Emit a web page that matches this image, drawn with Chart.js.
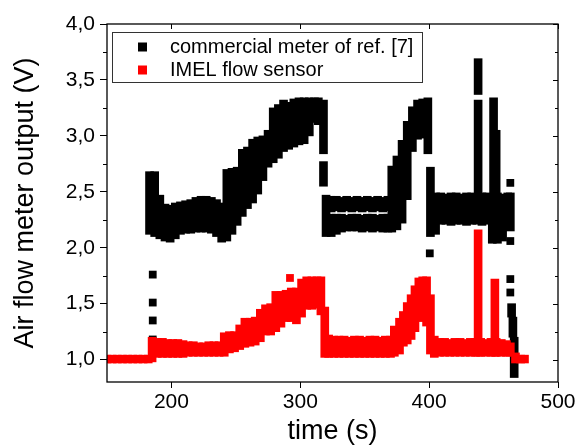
<!DOCTYPE html>
<html><head><meta charset="utf-8">
<script src="https://cdn.jsdelivr.net/npm/chart.js@4"></script>
<style>html,body{margin:0;padding:0;background:#fff}</style>
</head><body>
<canvas id="c" width="579" height="446"></canvas>
<script>
// ---- data ----
const seriesNames = ['commercial meter of ref. [7]', 'IMEL flow sensor'];
const xTitle = 'time (s)';
const yTitle = 'Air flow meter output (V)';
const xTickValues = [200, 300, 400, 500];
const yTickValues = [1.0, 1.5, 2.0, 2.5, 3.0, 3.5, 4.0];
const yTickLabels = ['1,0', '1,5', '2,0', '2,5', '3,0', '3,5', '4,0'];
const yMinorTicks = [1.25, 1.75, 2.25, 2.75, 3.25, 3.75];

// commercial meter: band of readings (time, lowest, highest)
const meterTime = [183,187,191,195,199,203,207,211,215,219,223,227,231,235,239,243,247,251,255,259,263,267,271,275,279,283,287,291,295,299,303,307,311,314,318,318,320,
  324,324,328,328,332,332,336,336,340,340,344,344,348,348,352,352,356,356,360,360,364,364,368,368,
  371,375,379,383,387,391,395,399,401,
  405,409,413,417,421,425,429,433,437,441,445,449,453,457,461,438,438,450,452,463,464,465,466];
const meterLow = [2.12,2.10,2.08,2.06,2.05,2.08,2.12,2.13,2.13,2.14,2.14,2.14,2.13,2.10,2.05,2.06,2.12,2.20,2.28,2.35,2.40,2.48,2.60,2.72,2.76,2.80,2.86,2.88,2.90,2.92,2.93,3.00,3.12,3.10,2.84,2.55,2.10,
  2.32,2.10,2.33,2.12,2.32,2.14,2.33,2.15,2.32,2.15,2.33,2.15,2.32,2.14,2.33,2.15,2.32,2.14,2.33,2.15,2.32,2.14,2.33,2.14,
  2.14,2.16,2.22,2.43,2.86,2.97,2.98,2.84,2.10,
  2.12,2.21,2.21,2.20,2.21,2.21,2.20,2.21,2.21,2.20,2.21,2.04,2.04,2.06,2.18,2.40,3.37,2.45,2.45,2.15,1.38,1.20,0.84];
const meterHigh = [2.68,2.68,2.47,2.39,2.38,2.40,2.41,2.42,2.43,2.45,2.46,2.46,2.45,2.43,2.40,2.70,2.71,2.72,2.88,2.90,2.97,2.99,3.00,3.05,3.25,3.28,3.32,3.30,3.33,3.34,3.34,3.34,3.34,3.34,3.32,2.77,2.47,
  2.46,2.30,2.46,2.30,2.45,2.30,2.46,2.29,2.45,2.30,2.46,2.30,2.45,2.29,2.46,2.30,2.45,2.30,2.46,2.29,2.45,2.30,2.46,2.30,
  2.73,2.82,2.96,3.13,3.26,3.32,3.33,3.34,2.72,
  2.49,2.49,2.48,2.49,2.49,2.48,2.49,2.49,2.48,2.49,2.49,2.48,2.49,2.48,2.49,3.32,3.69,3.34,3.05,2.49,1.50,1.38,1.20];
// commercial meter: isolated readings
const meterPointTime = [185.5,185.5,185.5,185.5,400.5,463,463,463,463];
const meterPointValue = [1.76,1.51,1.35,1.18,1.95,2.58,2.06,1.72,1.60];

// IMEL flow sensor: band of readings (time, lowest, highest)
const sensorTime = [150,154,158,162,166,170,174,178,182,185,189,193,197,201,205,209,213,217,221,225,229,233,237,241,245,249,253,257,261,265,269,273,277,281,285,289,293,297,301,305,309,313,316,319,322,
  326,330,334,338,342,346,350,354,358,362,366,370,373,377,380,383,386,389,392,395,398,401,404,
  408,412,416,420,424,428,432,436,440,444,448,452,456,460,438,451,463,467,471,474];
const sensorLow = [0.97,0.97,0.97,0.97,0.97,0.97,0.97,0.97,0.97,0.98,1.02,1.02,1.02,1.02,1.02,1.02,1.03,1.03,1.03,1.03,1.03,1.03,1.03,1.03,1.06,1.07,1.09,1.11,1.12,1.13,1.16,1.22,1.22,1.25,1.29,1.34,1.34,1.32,1.38,1.45,1.45,1.46,1.40,1.02,1.02,
  1.02,1.02,1.02,1.02,1.02,1.02,1.02,1.02,1.02,1.02,1.02,1.02,1.03,1.05,1.12,1.14,1.18,1.25,1.34,1.36,1.30,1.05,1.02,
  1.03,1.03,1.03,1.03,1.03,1.03,1.03,1.03,1.03,1.03,1.03,1.03,1.03,1.03,1.03,1.03,1.03,0.97,0.97,0.97];
const sensorHigh = [1.04,1.04,1.04,1.04,1.04,1.04,1.04,1.04,1.04,1.20,1.19,1.19,1.18,1.18,1.18,1.17,1.16,1.16,1.15,1.15,1.16,1.16,1.16,1.24,1.25,1.25,1.31,1.37,1.37,1.38,1.45,1.49,1.50,1.61,1.61,1.62,1.64,1.64,1.72,1.74,1.74,1.74,1.74,1.47,1.22,
  1.21,1.21,1.21,1.20,1.21,1.21,1.20,1.21,1.21,1.20,1.21,1.21,1.30,1.37,1.43,1.51,1.58,1.66,1.73,1.74,1.74,1.58,1.21,
  1.19,1.19,1.18,1.19,1.19,1.18,1.19,1.19,1.19,1.18,1.19,1.19,1.18,1.17,2.16,1.72,1.15,1.06,1.04,1.04];
const sensorPointTime = [292];
const sensorPointValue = [1.73];

// ---- build chart ----
const FONT = "'Liberation Sans', Arial, sans-serif";
const colors = ['#000000', '#ff0000'];
const band = (t, lo, hi) => t.map((v, i) => ({x: v, y: [lo[i], hi[i]]}));
const pts = (t, v) => t.map((x, i) => ({x, y: v[i]}));

const framePlugin = {
  id: 'frame',
  afterDatasetsDraw(chart) {
    const {ctx, chartArea: a, scales: {x, y}} = chart;
    ctx.save();
    ctx.strokeStyle = '#000';
    ctx.lineWidth = 1.3;
    ctx.strokeRect(a.left, a.top, a.right - a.left, a.bottom - a.top);
    ctx.lineWidth = 1;
    ctx.beginPath();
    yMinorTicks.forEach(v => {
      const p = Math.round(y.getPixelForValue(v)) + 0.5;
      ctx.moveTo(a.left - 4, p); ctx.lineTo(a.left, p);
      ctx.moveTo(a.right, p); ctx.lineTo(a.right - 3, p);
    });
    yTickValues.forEach(v => {
      const p = Math.round(y.getPixelForValue(v)) + 0.5;
      ctx.moveTo(a.right, p); ctx.lineTo(a.right - 5, p);
    });
    xTickValues.forEach(v => {
      const p = Math.round(x.getPixelForValue(v)) + 0.5;
      ctx.moveTo(p, a.top); ctx.lineTo(p, a.top + 5);
    });
    ctx.stroke();
    ctx.restore();
  },
  afterDraw(chart) {
    const {ctx, chartArea: a} = chart;
    const L = a.left + 5, T = a.top + 8, W = 310, H = 50;
    ctx.save();
    ctx.fillStyle = '#fff';
    ctx.fillRect(L, T, W, H);
    ctx.strokeStyle = '#333';
    ctx.lineWidth = 1;
    ctx.strokeRect(L + 0.5, T + 0.5, W, H);
    ctx.font = '20px ' + FONT;
    ctx.textBaseline = 'middle';
    ctx.textAlign = 'left';
    seriesNames.forEach((name, i) => {
      const cy = T + 15 + i * 23;
      ctx.fillStyle = colors[i];
      ctx.fillRect(L + 26, cy - 4.5, 9, 9);
      ctx.fillStyle = '#000';
      ctx.fillText(name, L + 58, cy);
    });
    ctx.restore();
  }
};

new Chart(document.getElementById('c'), {
  type: 'bar',
  data: {
    datasets: [
      {label: seriesNames[0], data: band(meterTime, meterLow, meterHigh), backgroundColor: colors[0], order: 2, grouped: false, barThickness: 8},
      {label: seriesNames[0], type: 'line', showLine: false, data: pts(meterPointTime, meterPointValue), pointStyle: 'rect', pointRadius: 5.5, pointBackgroundColor: colors[0], pointBorderWidth: 0, order: 1},
      {label: seriesNames[1], data: band(sensorTime, sensorLow, sensorHigh), backgroundColor: colors[1], order: 0, grouped: false, barThickness: 8},
      {label: seriesNames[1], type: 'line', showLine: false, data: pts(sensorPointTime, sensorPointValue), pointStyle: 'rect', pointRadius: 5.5, pointBackgroundColor: colors[1], pointBorderWidth: 0, order: 0}
    ]
  },
  options: {
    responsive: false,
    animation: false,
    devicePixelRatio: 1,
    layout: {padding: {top: 24, right: 21, left: 0, bottom: 0}},
    plugins: {legend: {display: false}, tooltip: {enabled: false}},
    scales: {
      x: {
        type: 'linear', min: 150, max: 500, offset: false,
        afterFit: s => { s.height = 64; },
        afterBuildTicks: s => { s.ticks = xTickValues.map(v => ({value: v})); },
        grid: {display: true, drawOnChartArea: false, drawTicks: true, tickLength: 6, color: '#000', lineWidth: 1, offset: false},
        border: {display: false},
        ticks: {color: '#000', font: {size: 21, family: FONT}, padding: 2, maxRotation: 0, callback: v => String(v)},
        title: {display: true, text: xTitle, color: '#000', font: {size: 27, family: FONT, lineHeight: 1.1}, padding: 0}
      },
      y: {
        type: 'linear', min: 0.8, max: 4.0,
        afterFit: s => { s.width = 107; },
        afterBuildTicks: s => { s.ticks = yTickValues.map(v => ({value: v})); },
        grid: {display: true, drawOnChartArea: false, drawTicks: true, tickLength: 7, color: '#000', lineWidth: 1},
        border: {display: false},
        ticks: {color: '#000', font: {size: 21, family: FONT}, padding: 5, callback: (v, i) => yTickLabels[i]},
        title: {display: true, text: yTitle, color: '#000', font: {size: 27, family: FONT, lineHeight: 1.2}, padding: {top: 9, bottom: 0}}
      }
    }
  },
  plugins: [framePlugin]
});
</script>
</body></html>
